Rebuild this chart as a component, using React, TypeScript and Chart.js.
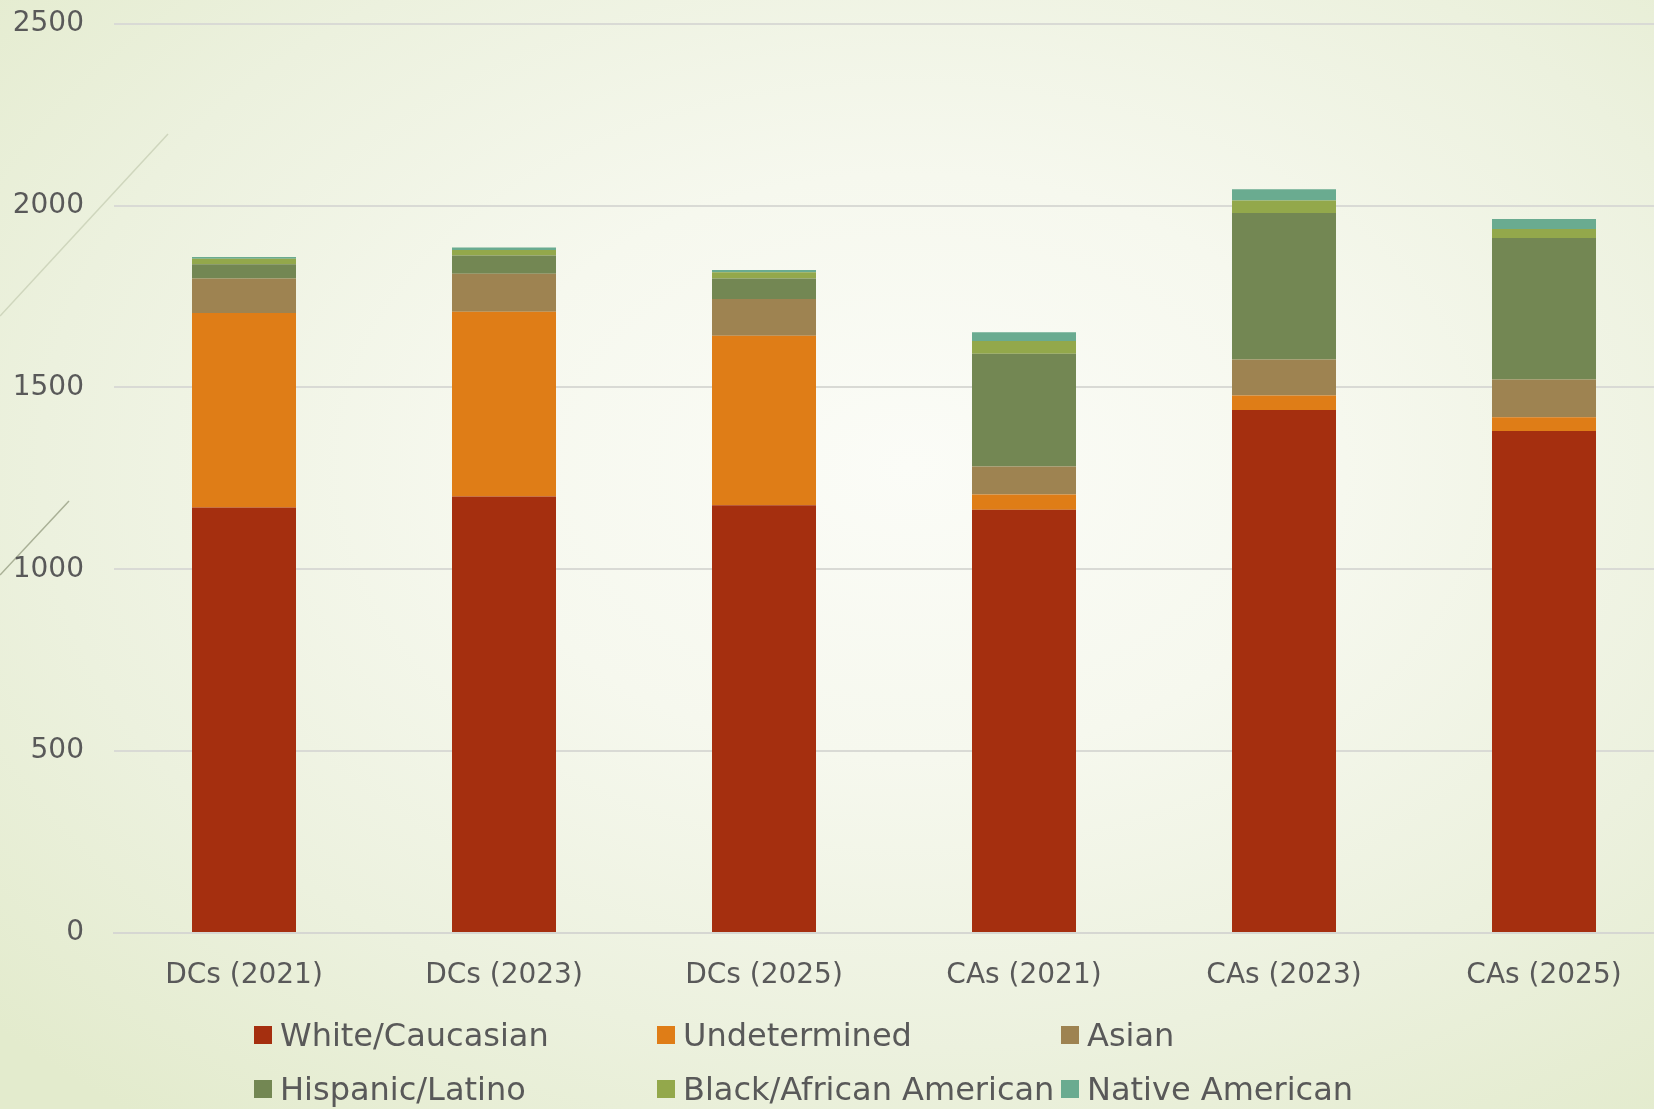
import React, { useEffect, useRef } from "react";
import { Chart, registerables } from "chart.js";

Chart.register(...registerables);

const categories = ["DCs (2021)", "DCs (2023)", "DCs (2025)", "CAs (2021)", "CAs (2023)", "CAs (2025)"];
const white = [1170, 1200, 1176, 1164, 1438, 1380];
const undetermined = [535, 508, 466, 42, 40, 38];
const asian = [95, 105, 101, 77, 99, 104];
const hispanic = [39, 50, 57, 310, 403, 389];
const black = [15, 15, 17, 35, 34, 25];
const native = [5, 7, 6, 24, 31, 27];

const seriesNames = ["White/Caucasian", "Undetermined", "Asian", "Hispanic/Latino", "Black/African American", "Native American"];
const seriesValues = [white, undetermined, asian, hispanic, black, native];
const seriesColors = ["#A52F0F", "#DF7D17", "#9E8351", "#738753", "#93A84B", "#6AAB90"];
const yTicks = [0, 500, 1000, 1500, 2000, 2500];

const legendPos = [
  { left: 254, top: 1035 },
  { left: 657, top: 1035 },
  { left: 1061, top: 1035 },
  { left: 254, top: 1089 },
  { left: 657, top: 1089 },
  { left: 1061, top: 1089 },
];

export default function App() {
  const ref = useRef<HTMLCanvasElement | null>(null);

  useEffect(() => {
    if (!ref.current) return;
    const chart = new Chart(ref.current, {
      type: "bar",
      data: {
        labels: categories,
        datasets: seriesNames.map((name, i) => ({
          label: name,
          data: seriesValues[i],
          backgroundColor: seriesColors[i],
          borderWidth: 0,
          categoryPercentage: 0.8,
          barPercentage: 0.5,
        })),
      },
      options: {
        responsive: false,
        animation: false,
        layout: { padding: { top: 0, left: 0, right: 26, bottom: 96 } },
        plugins: { legend: { display: false }, tooltip: { enabled: false } },
        scales: {
          x: {
            stacked: true,
            grid: { display: false, drawTicks: false },
            border: { display: true, color: "#d6d7d2", width: 2 },
            ticks: {
              color: "#595959",
              font: { family: "DejaVu Sans", size: 28 },
              padding: 26,
              maxRotation: 0,
            },
            afterFit: (s: any) => {
              s.height = 80;
            },
          },
          y: {
            stacked: true,
            min: 0,
            max: 2500,
            afterBuildTicks: (s: any) => {
              s.ticks = yTicks.map((v) => ({ value: v }));
            },
            grid: { color: "#d9dad5", lineWidth: 2, drawTicks: false },
            border: { display: false },
            ticks: {
              color: "#595959",
              font: { family: "DejaVu Sans", size: 28 },
              padding: 30,
              callback: (v: any) => String(v),
            },
            afterFit: (s: any) => {
              s.width = 114;
            },
          },
        },
      },
    });
    return () => chart.destroy();
  }, []);

  return (
    <div
      style={{
        position: "fixed",
        left: 0,
        top: 0,
        width: 1654,
        height: 1109,
        overflow: "hidden",
        background:
          "radial-gradient(ellipse 75% 75% at 55% 42%, #fbfcf7 0%, #f6f8ee 35%, #ecf1de 70%, #e3ebcd 100%)",
      }}
    >
      <svg width={1654} height={1109} style={{ position: "absolute", left: 0, top: 0 }}>
        <line x1={0} y1={316} x2={168} y2={134} stroke="#cfd6bd" strokeWidth={1.5} />
        <line x1={0} y1={575} x2={69} y2={501} stroke="#a9b096" strokeWidth={1.5} />
      </svg>
      <canvas ref={ref} width={1700} height={1132} style={{ position: "absolute", left: 0, top: -23 }} />
      {seriesNames.map((name, i) => (
        <div
          key={name}
          style={{
            position: "absolute",
            left: legendPos[i].left,
            top: legendPos[i].top - 20,
            height: 40,
            display: "flex",
            alignItems: "center",
            fontFamily: "DejaVu Sans",
            fontSize: 32,
            color: "#595959",
            whiteSpace: "nowrap",
          }}
        >
          <span
            style={{
              display: "inline-block",
              width: 18,
              height: 18,
              background: seriesColors[i],
              marginRight: 8,
            }}
          />
          {name}
        </div>
      ))}
    </div>
  );
}
